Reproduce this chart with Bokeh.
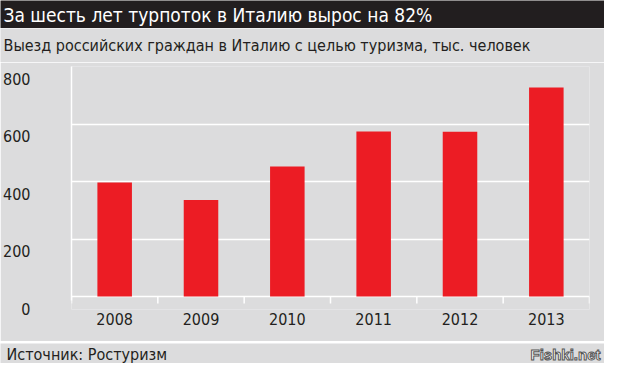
from bokeh.plotting import figure
from bokeh.layouts import column
from bokeh.models import Range1d, FixedTicker, ColumnDataSource, Label, LinearAxis
from bokeh.embed import file_html
from bokeh.resources import INLINE

# ---- data ----
years = ["2008", "2009", "2010", "2011", "2012", "2013"]
tourists = [397, 336, 452, 574, 573, 727]
y_ticks = [0, 200, 400, 600, 800]

title_text = "За шесть лет турпоток в Италию вырос на 82%"
subtitle_text = "Выезд российских граждан в Италию с целью туризма, тыс. человек"
source_text = "Источник: Ростуризм"
watermark_text = "Fishki.net"

FONT = "DejaVu Sans Condensed, Roboto"
DARK = "#231f20"
BG = "#dcdcdd"
RED = "#ec1c24"
W = 604
BL, BR = 56, 15          # left / right borders of the chart
Y_MAX = 800
Y_PAD = 45               # room below the zero line (data units)
LABEL_SHIFT = 42         # y labels sit a little below their grid lines
TICK_DROP = 24           # length of the category separators below zero


def band(height, fill):
    f = figure(width=W, height=height, x_range=Range1d(0, W), y_range=Range1d(0, height),
               x_axis_type=None, y_axis_type=None, toolbar_location=None,
               output_backend="svg", min_border=0, frame_align=False,
               background_fill_color=fill, border_fill_color=fill,
               outline_line_color=None)
    f.grid.visible = False
    return f


# header
head = band(28, "#221e1f")
head.add_layout(Label(x=3, y=14, text=title_text, text_color="white",
                      text_font=FONT, text_font_size="19px", text_baseline="middle"))

# subtitle band
sub = band(34, BG)
sub.add_layout(Label(x=3, y=17, text=subtitle_text, text_color=DARK,
                     text_font=FONT, text_font_size="16px", text_baseline="middle"))

# main chart
xs = [i + 0.5 for i in range(len(years))]
bounds = list(range(len(years) + 1))
src = ColumnDataSource(dict(x=xs, top=tourists, year=years))
p = figure(width=W, height=279, x_range=Range1d(0, len(years)),
           y_range=Range1d(-Y_PAD, Y_MAX),
           toolbar_location=None, output_backend="svg", frame_align=False,
           min_border_left=BL, min_border_right=BR, min_border_top=4, min_border_bottom=32,
           background_fill_color=BG, border_fill_color=BG, outline_line_color=None)
p.extra_y_ranges = {"lab": Range1d(-Y_PAD + LABEL_SHIFT, Y_MAX + LABEL_SHIFT)}

p.vbar(x="x", top="top", width=0.4, bottom=0, source=src, fill_color=RED, line_color=None)
p.segment(x0=bounds, y0=[0] * len(bounds), x1=bounds, y1=[-TICK_DROP] * len(bounds),
          line_color="white", line_width=1.5)

p.xgrid.visible = False
p.ygrid.ticker = FixedTicker(ticks=y_ticks)
p.ygrid.grid_line_color = "white"
p.ygrid.grid_line_width = 1.5

# main y axis: only the white vertical line
p.yaxis.ticker = FixedTicker(ticks=y_ticks)
p.yaxis.bounds = (-14, Y_MAX)
p.yaxis.axis_line_color = "white"
p.yaxis.axis_line_width = 1.5
p.yaxis.major_tick_line_color = None
p.yaxis.minor_tick_line_color = None
p.yaxis.major_label_text_font_size = "0px"
p.yaxis.major_label_text_color = None
p.yaxis.major_label_standoff = 0

# labelled y axis (shifted so the numbers sit just under their grid lines)
lab_axis = LinearAxis(y_range_name="lab", ticker=FixedTicker(ticks=y_ticks),
                      axis_line_color=None, major_tick_line_color=None,
                      minor_tick_line_color=None, major_label_standoff=29,
                      major_label_text_font=FONT, major_label_text_font_size="16px",
                      major_label_text_color=DARK)
p.add_layout(lab_axis, "left")

p.xaxis.ticker = FixedTicker(ticks=xs)
p.xaxis.major_label_overrides = {x: y for x, y in zip(xs, years)}
p.xaxis.axis_line_color = None
p.xaxis.major_tick_line_color = None
p.xaxis.minor_tick_line_color = None
p.xaxis.major_label_standoff = -3
p.xaxis.major_label_text_font = FONT
p.xaxis.major_label_text_font_size = "16px"
p.xaxis.major_label_text_color = DARK

# white separator
sep = band(2, "white")

# footer
foot = band(20, BG)
foot.add_layout(Label(x=6, y=9, text=source_text, text_color=DARK,
                      text_font=FONT, text_font_size="16px", text_baseline="middle"))
foot.add_layout(Label(x=W - 4, y=9, text=watermark_text, text_color="white",
                      text_font="Liberation Sans", text_font_size="15px",
                      text_font_style="bold", text_baseline="middle", text_align="right",
                      text_outline_color="#555555"))

layout = column(head, sub, p, sep, foot, spacing=0)
open("out.html", "w").write(file_html(layout, INLINE))
